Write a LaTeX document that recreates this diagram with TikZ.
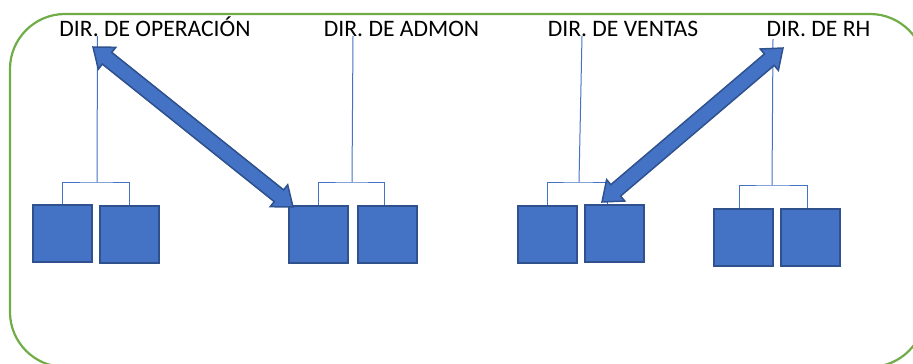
\documentclass[tikz,border=0pt]{standalone}
\usepackage{fontspec}
\setmainfont{Carlito}
\usetikzlibrary{calc}

\definecolor{frameGreen}{HTML}{70AD47}
\definecolor{boxBlue}{HTML}{4472C4}
\definecolor{boxEdge}{HTML}{2F528F}
\definecolor{linkBlue}{HTML}{4472C4}

\tikzset{
  unitbox/.style={draw=boxEdge, fill=boxBlue, line width=2pt,
    minimum width=59pt, minimum height=57pt, inner sep=0pt},
  dirlabel/.style={anchor=base, inner sep=0pt, font=\fontsize{23.6}{28}\selectfont},
  link/.style={draw=linkBlue, line width=1pt},
  bigarrow/.style={draw=boxEdge, fill=boxBlue, line width=1.5pt, line join=miter},
  frame/.style={draw=frameGreen, line width=2.2pt, rounded corners=55pt}
}

% Double-headed block arrow between two named points
\newcommand\twoheadarrow[2]{%
  \coordinate (#1h) at ($(#1)!18pt!(#2)$);
  \coordinate (#2h) at ($(#2)!18pt!(#1)$);
  \path[bigarrow]
    (#1)
    -- ($(#1h)!14pt!90:(#2)$)
    -- ($(#1h)!7.5pt!90:(#2)$)
    -- ($(#2h)!7.5pt!-90:(#1)$)
    -- ($(#2h)!14pt!-90:(#1)$)
    -- (#2)
    -- ($(#2h)!14pt!90:(#1)$)
    -- ($(#2h)!7.5pt!90:(#1)$)
    -- ($(#1h)!7.5pt!-90:(#2)$)
    -- ($(#1h)!14pt!-90:(#2)$)
    -- cycle;
}

\begin{document}
\begin{tikzpicture}[x=1pt, y=-1pt]
  \useasboundingbox (0,0) rectangle (913,364);
  \clip (0,0) rectangle (913,364);

  % outer frame
  \draw[frame] (10,14) rectangle (925,367);

  % director labels
  \node[dirlabel] (opL) at (155,36) {DIR. DE OPERACIÓN};
  \node[dirlabel] (adL) at (401.5,36) {DIR. DE ADMON};
  \node[dirlabel] (veL) at (623,36) {DIR. DE VENTAS};
  \node[dirlabel] (rhL) at (818.5,36) {DIR. DE RH};

  % subordinate boxes
  \node[unitbox] (op1) at (62.5,233) {};
  \node[unitbox] (op2) at (129,234.5) {};
  \node[unitbox] (ad1) at (318.5,234) {};
  \node[unitbox] (ad2) at (387,234) {};
  \node[unitbox] (ve1) at (547,234) {};
  \node[unitbox] (ve2) at (614.5,233) {};
  \node[unitbox] (rh1) at (743,237.5) {};
  \node[unitbox] (rh2) at (810.5,237.5) {};

  % branch points
  \coordinate (opTop) at (97.5,36);   \coordinate (opMid) at (97,182);
  \coordinate (adTop) at (353,36);    \coordinate (adMid) at (352,182);
  \coordinate (veTop) at (582,36);    \coordinate (veMid) at (579,182);
  \coordinate (rhTop) at (773,39);    \coordinate (rhMid) at (772,185);

  % reporting lines
  \draw[link] (opTop) -- (opMid);
  \draw[link] (op1.north) |- (opMid) -| (op2.north);
  \draw[link] (adTop) -- (adMid);
  \draw[link] (ad1.north) |- (adMid) -| ([xshift=-3pt]ad2.north);
  \draw[link] (veTop) -- (veMid);
  \draw[link] (ve1.north) |- (veMid) -| ([xshift=-7pt]ve2.north);
  \draw[link] (rhTop) -- (rhMid);
  \draw[link] ([xshift=-4pt]rh1.north) |- (rhMid) -| ([xshift=-3pt]rh2.north);

  % coordination arrows
  \coordinate (aOp) at (93,47);
  \coordinate (aAd) at (293,207);
  \twoheadarrow{aOp}{aAd}
  \coordinate (aVe) at (602,202);
  \coordinate (aRh) at (783,48);
  \twoheadarrow{aVe}{aRh}
\end{tikzpicture}
\end{document}
